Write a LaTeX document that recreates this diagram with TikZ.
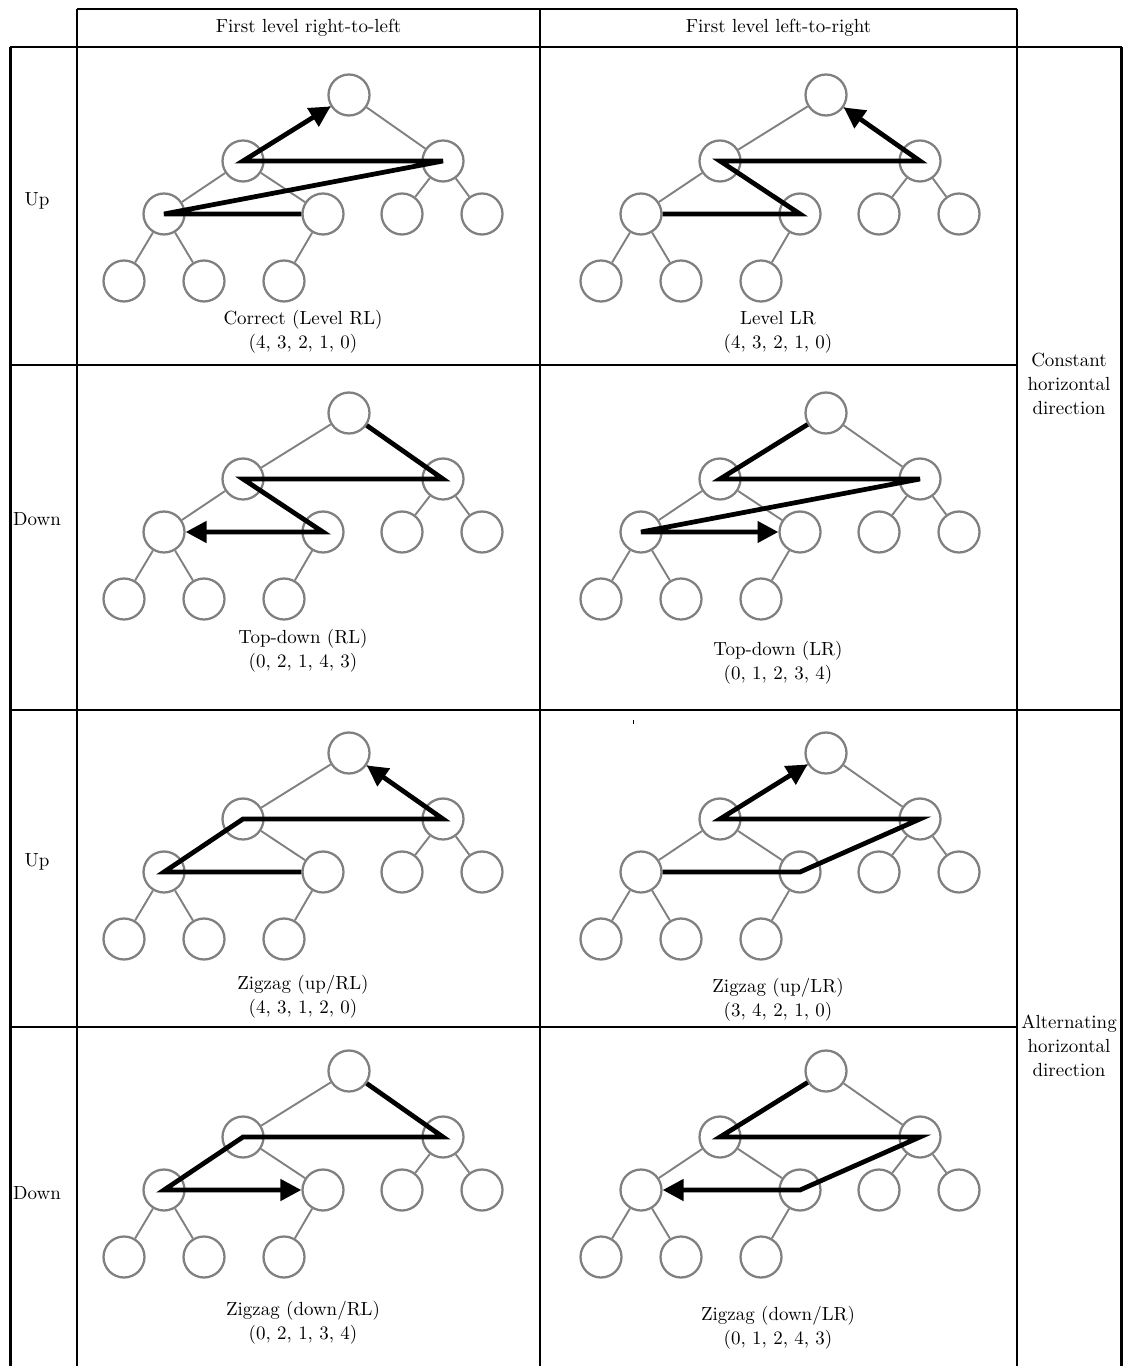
\documentclass[tikz,border=0pt]{standalone}
\usetikzlibrary{arrows.meta}
\definecolor{treegray}{HTML}{808080}

% one complete binary heap of ten slots; #1 = name prefix, (#2,#3) = offset
\newcommand{\heaptree}[3]{%
  \begin{scope}[shift={(#2,#3)}]
    \node[hnode] (#1-0) at (349,95)  {};
    \node[hnode] (#1-1) at (243,161) {};
    \node[hnode] (#1-2) at (443,161) {};
    \node[hnode] (#1-3) at (164,214) {};
    \node[hnode] (#1-4) at (323,214) {};
    \node[hnode] (#1-5) at (402,214) {};
    \node[hnode] (#1-6) at (482,214) {};
    \node[hnode] (#1-7) at (124,281) {};
    \node[hnode] (#1-8) at (204,281) {};
    \node[hnode] (#1-9) at (284,281) {};
    \draw[hedge] (#1-0) -- (#1-1) (#1-0) -- (#1-2)
                 (#1-1) -- (#1-3) (#1-1) -- (#1-4)
                 (#1-2) -- (#1-5) (#1-2) -- (#1-6)
                 (#1-3) -- (#1-7) (#1-3) -- (#1-8)
                 (#1-4) -- (#1-9);
  \end{scope}}

\begin{document}
\begin{tikzpicture}[x=0.527pt,y=-0.527pt,
  hnode/.style={circle,draw=treegray,fill=white,line width=1.2pt,
                minimum size=21.6pt,inner sep=0pt},
  hedge/.style={draw=treegray,line width=1pt},
  walkarrow/.style={line width=2.5pt,black,-{Triangle[length=11pt,width=11pt]}},
  rule/.style={line width=1.3pt,black},
  txt/.style={font=\fontsize{10}{12.8}\selectfont,align=center,inner sep=0pt}]

\useasboundingbox (0,0) rectangle (1123,1366);

% table frame
\draw[rule] (77,9) -- (1017,9);
\draw[rule] (10,47) -- (1121.5,47);
\draw[rule] (10,365) -- (1017,365);
\draw[rule] (10,710) -- (1121.5,710);
\draw[rule] (10,1027) -- (1017,1027);
\draw[rule] (10.5,47) -- (10.5,1366);
\draw[rule] (77,9) -- (77,1366);
\draw[rule] (540,9) -- (540,1366);
\draw[rule] (1017,9) -- (1017,1366);
\draw[rule] (1121.5,47) -- (1121.5,1366);

% headings
\node[txt] (hrl) at (308.5,28) {First level right-to-left};
\node[txt] (hlr) at (778.5,28) {First level left-to-right};
\node[txt] (up1) at (37,201) {Up};
\node[txt] (dn1) at (37,519) {Down};
\node[txt] (up2) at (37,862) {Up};
\node[txt] (dn2) at (37,1193) {Down};
\node[txt] (cst) at (1069,384) {Constant\\horizontal\\direction};
\node[txt] (alt) at (1069,1046) {Alternating\\horizontal\\direction};

% trees
\heaptree{a}{0}{0}
\heaptree{b}{477}{0}
\heaptree{c}{0}{318}
\heaptree{d}{477}{318}
\heaptree{e}{0}{658}
\heaptree{f}{477}{658}
\heaptree{g}{0}{976}
\heaptree{h}{477}{976}

% traversal orders
\draw[walkarrow] (a-4) -- (a-3.center) -- (a-2.center) -- (a-1.center) -- (a-0);
\draw[walkarrow] (b-3) -- (b-4.center) -- (b-1.center) -- (b-2.center) -- (b-0);
\draw[walkarrow] (c-0) -- (c-2.center) -- (c-1.center) -- (c-4.center) -- (c-3);
\draw[walkarrow] (d-0) -- (d-1.center) -- (d-2.center) -- (d-3.center) -- (d-4);
\draw[walkarrow] (e-4) -- (e-3.center) -- (e-1.center) -- (e-2.center) -- (e-0);
\draw[walkarrow] (f-3) -- (f-4.center) -- (f-2.center) -- (f-1.center) -- (f-0);
\draw[walkarrow] (g-0) -- (g-2.center) -- (g-1.center) -- (g-3.center) -- (g-4);
\draw[walkarrow] (h-0) -- (h-1.center) -- (h-2.center) -- (h-4.center) -- (h-3);

% captions
\node[txt] (ca) at (303,332)  {Correct (Level RL)\\(4, 3, 2, 1, 0)};
\node[txt] (cb) at (778,332)  {Level LR\\(4, 3, 2, 1, 0)};
\node[txt] (cc) at (303,651)  {Top-down (RL)\\(0, 2, 1, 4, 3)};
\node[txt] (cd) at (778,663)  {Top-down (LR)\\(0, 1, 2, 3, 4)};
\node[txt] (ce) at (303,997)  {Zigzag (up/RL)\\(4, 3, 1, 2, 0)};
\node[txt] (cf) at (778,1000) {Zigzag (up/LR)\\(3, 4, 2, 1, 0)};
\node[txt] (cg) at (303,1323) {Zigzag (down/RL)\\(0, 2, 1, 3, 4)};
\node[txt] (ch) at (778,1328) {Zigzag (down/LR)\\(0, 1, 2, 4, 3)};

% small stray tick
\fill (632.6,720) rectangle (633.8,724);
\end{tikzpicture}
\end{document}
